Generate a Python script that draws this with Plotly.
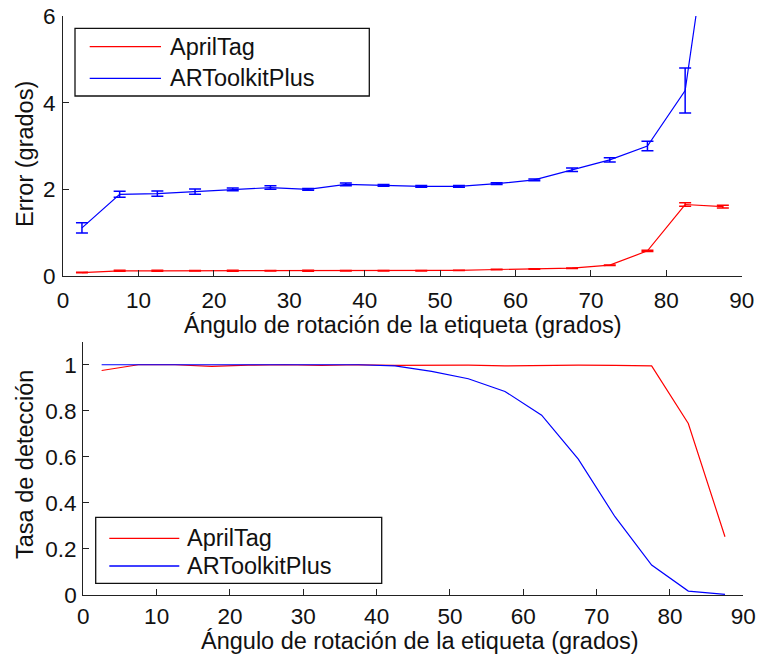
import plotly.graph_objects as go

W, H = 759, 662

angles = [2.5, 7.5, 12.5, 17.5, 22.5, 27.5, 32.5, 37.5, 42.5, 47.5,
          52.5, 57.5, 62.5, 67.5, 72.5, 77.5, 82.5, 87.5]

err_april = [0.08, 0.12, 0.12, 0.12, 0.12, 0.12, 0.12, 0.12, 0.12, 0.12,
             0.13, 0.15, 0.16, 0.18, 0.25, 0.58, 1.65, 1.60]
err_april_sd = [0.005, 0.01, 0.01, 0.005, 0.01, 0.005, 0.01, 0.005, 0.005, 0.005,
                0.005, 0.005, 0.005, 0.005, 0.005, 0.015, 0.04, 0.03]

err_artk = [1.11, 1.885, 1.90, 1.945, 2.0, 2.04, 2.0, 2.115, 2.09, 2.07,
            2.07, 2.13, 2.22, 2.45, 2.68, 3.0, 4.28, 10.3]
err_artk_sd = [0.12, 0.07, 0.06, 0.06, 0.03, 0.04, 0.02, 0.03, 0.02, 0.02,
               0.02, 0.02, 0.02, 0.04, 0.05, 0.11, 0.52, 0.8]

det_april = [0.975, 1.0, 1.0, 0.993, 0.998, 1.0, 0.997, 1.0, 0.997, 0.998,
             0.998, 0.995, 0.998, 0.998, 0.997, 0.995, 0.745, 0.253]
det_artk = [1.0, 1.0, 1.0, 1.0, 1.0, 1.0, 1.0, 1.0, 0.995, 0.971,
            0.939, 0.884, 0.781, 0.59, 0.34, 0.13, 0.017, 0.003]

series_names = ["AprilTag", "ARToolkitPlus"]
xticks = [0, 10, 20, 30, 40, 50, 60, 70, 80, 90]
yticks_top = [0, 2, 4, 6]
yticks_bot = [0, 0.2, 0.4, 0.6, 0.8, 1]
x_title = "Ángulo de rotación de la etiqueta (grados)"

RED = "#ff0000"
BLUE = "#0000ff"
FONT = "Liberation Sans, Arial, sans-serif"
FS = 23.5
TFS = 22.5

fig = go.Figure()

fig.add_trace(go.Scatter(
    x=angles, y=err_april, mode="lines", name=series_names[0],
    line=dict(color=RED, width=1.2),
    error_y=dict(type="data", array=err_april_sd, color=RED, thickness=1.5, width=6),
    xaxis="x", yaxis="y", showlegend=False))
fig.add_trace(go.Scatter(
    x=angles, y=err_artk, mode="lines", name=series_names[1],
    line=dict(color=BLUE, width=1.2),
    error_y=dict(type="data", array=err_artk_sd, color=BLUE, thickness=1.5, width=6),
    xaxis="x", yaxis="y", showlegend=False))

fig.add_trace(go.Scatter(
    x=angles, y=det_april, mode="lines", name=series_names[0],
    line=dict(color=RED, width=1.2), xaxis="x2", yaxis="y2", showlegend=False))
fig.add_trace(go.Scatter(
    x=angles, y=det_artk, mode="lines", name=series_names[1],
    line=dict(color=BLUE, width=1.2), xaxis="x2", yaxis="y2", showlegend=False))

def px(x):
    return x / W

def py(y):
    return 1 - y / H

axis_common = dict(
    showgrid=False, zeroline=False, showline=True, linecolor="#222222", linewidth=1.3,
    ticks="inside", ticklen=6, tickcolor="#222222", tickwidth=1.3, automargin=False,
    tickfont=dict(family=FONT, size=TFS, color="#111111"),
)

fig.update_layout(
    width=W, height=H,
    margin=dict(l=0, r=0, t=0, b=0, autoexpand=False),
    paper_bgcolor="white", plot_bgcolor="white",
    font=dict(family=FONT, size=FS, color="#111111"),
    xaxis=dict(domain=[px(63.1), px(741.7)], range=[0, 90], tickvals=xticks,
               anchor="y", ticklabelstandoff=4, **axis_common),
    yaxis=dict(domain=[py(276), py(16)], range=[0, 6], tickvals=yticks_top,
               anchor="x", ticklabelstandoff=2, **axis_common),
    xaxis2=dict(domain=[px(83.3), px(743.3)], range=[0, 90], tickvals=xticks,
                anchor="y2", ticklabelstandoff=1, **axis_common),
    yaxis2=dict(domain=[py(595), py(341.7)], range=[0, 1.1], tickvals=yticks_bot,
                ticktext=["0", "0.2", "0.4", "0.6", "0.8", "1"],
                anchor="x2", ticklabelstandoff=1, **axis_common),
)

ann = []
shapes = []
# axis titles
ann.append(dict(text=x_title, x=px(403), y=py(325), xref="paper", yref="paper",
                showarrow=False, xanchor="center", yanchor="middle",
                font=dict(family=FONT, size=FS, color="#111111")))
ann.append(dict(text=x_title, x=px(420), y=py(641), xref="paper", yref="paper",
                showarrow=False, xanchor="center", yanchor="middle",
                font=dict(family=FONT, size=FS, color="#111111")))
ann.append(dict(text="Error (grados)", x=px(25), y=py(154), xref="paper", yref="paper",
                showarrow=False, xanchor="center", yanchor="middle", textangle=-90,
                font=dict(family=FONT, size=FS, color="#111111")))
ann.append(dict(text="Tasa de detección", x=px(25), y=py(465), xref="paper", yref="paper",
                showarrow=False, xanchor="center", yanchor="middle", textangle=-90,
                font=dict(family=FONT, size=FS, color="#111111")))

def legend(x0, y0, x1, y1, lx0, lx1, tx, rows):
    shapes.append(dict(type="rect", xref="paper", yref="paper",
                       x0=px(x0), x1=px(x1), y0=py(y1), y1=py(y0),
                       line=dict(color="#111111", width=1.3), fillcolor="white", layer="above"))
    for (yc, name, col) in rows:
        shapes.append(dict(type="line", xref="paper", yref="paper",
                           x0=px(lx0), x1=px(lx1), y0=py(yc), y1=py(yc),
                           line=dict(color=col, width=1.3), layer="above"))
        ann.append(dict(text=name, x=px(tx), y=py(yc), xref="paper", yref="paper",
                        showarrow=False, xanchor="left", yanchor="middle",
                        font=dict(family=FONT, size=FS, color="#111111")))

legend(75, 28.3, 369.3, 96, 89.7, 161, 168,
       [(46.7, series_names[0], RED), (78.3, series_names[1], BLUE)])
legend(95.7, 517.3, 381.7, 583.3, 109.3, 179.3, 185,
       [(538.3, series_names[0], RED), (566, series_names[1], BLUE)])

fig.update_layout(annotations=ann, shapes=shapes)

fig.write_html("out.html")
